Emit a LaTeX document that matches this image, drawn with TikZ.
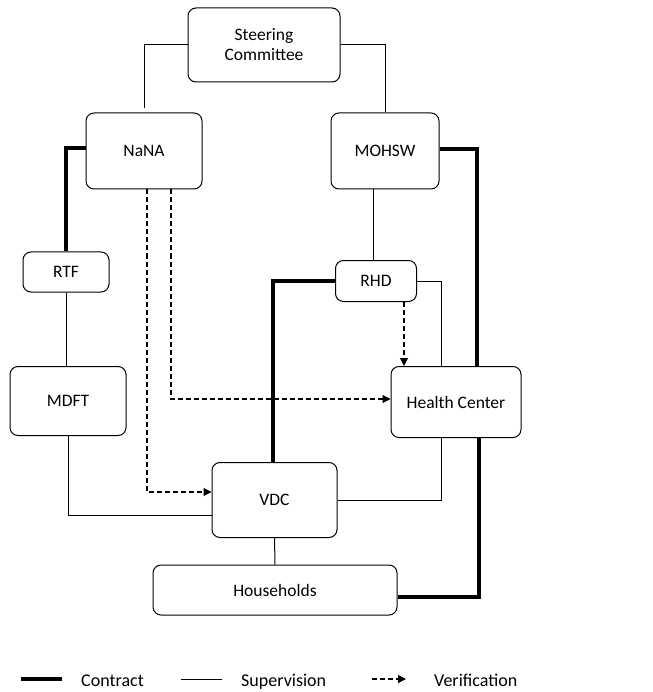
\documentclass[tikz,border=0pt]{standalone}
\usepackage{fontspec}
\setmainfont{Carlito}
\usetikzlibrary{arrows.meta}
\tikzset{
  orgbox/.style={draw,rounded corners=8pt,line width=1pt,align=center,inner sep=0pt,font=\fontsize{17.5}{20}\selectfont},
  contract/.style={line width=4pt},
  supervision/.style={line width=1pt},
  verification/.style={line width=1.1pt,dash pattern=on 5pt off 3pt,-{Triangle[length=8pt,width=8pt]}},
  legendtext/.style={anchor=base west,inner sep=0pt,font=\fontsize{18}{21}\selectfont}
}
\begin{document}
\begin{tikzpicture}[x=1pt,y=-1pt]
        \useasboundingbox (0,0) rectangle (652,692);

        \node[orgbox,minimum width=152pt,minimum height=74pt] (SC) at (264,45) {Steering\\Committee};
        \node[orgbox,minimum width=116pt,minimum height=76pt] (NaNA) at (144,151) {NaNA};
        \node[orgbox,minimum width=108pt,minimum height=76pt] (MOHSW) at (385,151) {MOHSW};
        \node[orgbox,minimum width=86pt,minimum height=40pt] (RTF) at (66,272) {RTF};
        \node[orgbox,minimum width=81pt,minimum height=41pt] (RHD) at (376,281) {RHD};
        \node[orgbox,minimum width=116pt,minimum height=69pt] (MDFT) at (68,401) {MDFT};
        \node[orgbox,minimum width=130pt,minimum height=71pt] (HC) at (456,402) {Health Center};
        \node[orgbox,minimum width=125pt,minimum height=75pt] (VDC) at (274.5,500) {VDC};
        \node[orgbox,minimum width=244pt,minimum height=50pt] (HH) at (275,590) {Households};

        % supervision
        \draw[supervision] (SC.west) -| ([yshift=4pt]NaNA.north);
        \draw[supervision] (SC.east) -| (MOHSW.north);
        \draw[supervision] ([xshift=-3pt]RHD.north) -- ([xshift=-3pt]RHD.north |- MOHSW.south);
        \draw[supervision] (RHD.east) -| ([xshift=-15pt]HC.north);
        \draw[supervision] (RTF.south) -- (RTF.south |- MDFT.north);
        \draw[supervision] (MDFT.south) |- ([yshift=-15pt]VDC.west);
        \draw[supervision] ([xshift=-15pt]HC.south) |- (VDC.east);
        \draw[supervision] (VDC.south) -- (HH.north);

        % contract
        \draw[contract] ([yshift=3pt]NaNA.west) -| (RTF.north);
        \draw[contract] ([yshift=2pt]MOHSW.east) -| ([xshift=21pt]HC.north);
        \draw[contract] (RHD.west) -| ([xshift=-1.5pt]VDC.north);
        \draw[contract] ([yshift=-7pt]HH.east) -| ([xshift=23pt]HC.south);

        % verification
        \draw[verification] ([xshift=27pt]NaNA.south) |- ([yshift=3pt]HC.west);
        \draw[verification] ([xshift=3pt]NaNA.south) |- ([yshift=8pt]VDC.west);
        \draw[verification] ([xshift=28pt]RHD.south) -- ([xshift=28pt]RHD.south |- HC.north);

        % legend
        \node[legendtext] (Lcon) at (81,686) {Contract};
        \node[legendtext] (Lsup) at (241,686) {Supervision};
        \node[legendtext] (Lver) at (434,686) {Verification};
        \draw[contract] ([xshift=-60pt,yshift=7pt]Lcon.base west) -- ([xshift=-19pt,yshift=7pt]Lcon.base west);
        \draw[supervision] ([xshift=-60pt,yshift=7pt]Lsup.base west) -- ([xshift=-19pt,yshift=7pt]Lsup.base west);
        \draw[verification] ([xshift=-62pt,yshift=7pt]Lver.base west) -- ([xshift=-28pt,yshift=7pt]Lver.base west);
\end{tikzpicture}
\end{document}
